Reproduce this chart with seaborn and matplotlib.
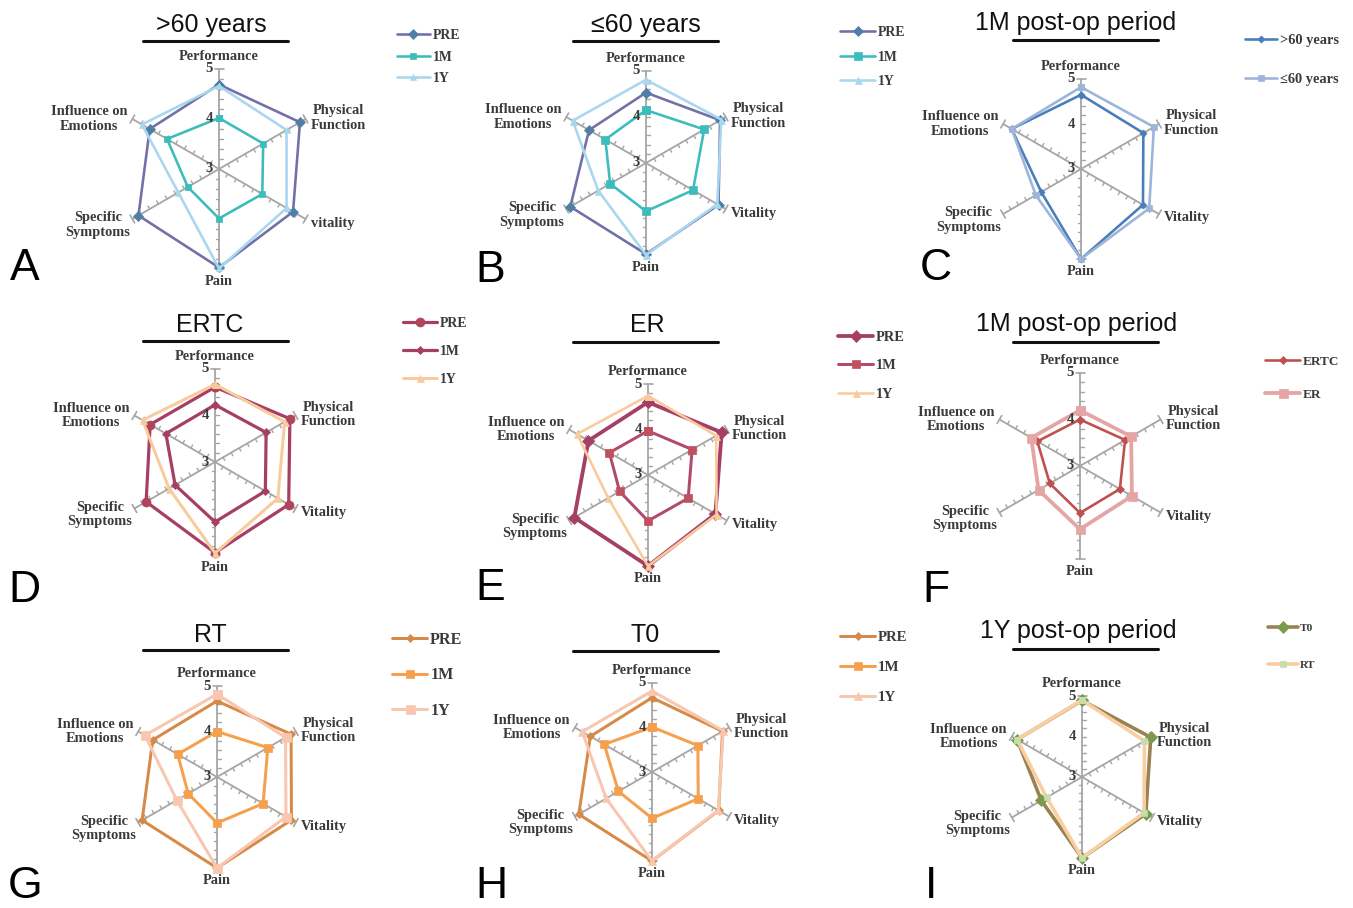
import numpy as np
import pandas as pd
import matplotlib
matplotlib.use("Agg")
import matplotlib.pyplot as plt
from matplotlib.lines import Line2D
import seaborn as sns

# ---------------------------------------------------------------- data
categories = ["Performance", "Physical\nFunction", "Vitality", "Pain",
              "Specific\nSymptoms", "Influence on\nEmotions"]
categories_a = ["Performance", "Physical\nFunction", "vitality", "Pain",
                "Specific\nSymptoms", "Influence on\nEmotions"]
radial_ticks = [3, 4, 5]

# A: >60 years
a_pre = [4.69, 4.87, 4.71, 4.97, 4.86, 4.60]
a_1m = [4.02, 4.02, 4.00, 3.99, 3.72, 4.20]
a_1y = [4.66, 4.56, 4.56, 4.99, 3.94, 4.78]
# B: <=60 years
b_pre = [4.53, 4.86, 4.82, 4.98, 4.90, 4.43]
b_1m = [4.15, 4.46, 4.18, 4.05, 3.90, 4.02]
b_1y = [4.81, 4.89, 4.79, 5.00, 4.20, 4.84]
# C: 1M post-op, by age
c_old = [4.65, 4.60, 4.59, 5.00, 4.02, 4.78]
c_young = [4.82, 4.87, 4.75, 5.00, 4.16, 4.78]
# D: ERTC
d_pre = [4.61, 4.86, 4.83, 4.95, 4.71, 4.61]
d_1m = [4.23, 4.27, 4.25, 4.29, 3.99, 4.22]
d_1y = [4.67, 4.73, 4.56, 4.96, 4.14, 4.80]
# E: ER
e_pre = [4.60, 4.87, 4.71, 5.00, 4.87, 4.51]
e_1m = [3.97, 4.12, 4.02, 4.01, 3.72, 3.98]
e_1y = [4.74, 4.73, 4.74, 5.00, 4.01, 4.80]
# F: 1M post-op, by procedure
f_ertc = [4.00, 4.12, 3.99, 4.01, 3.75, 4.06]
f_er = [4.20, 4.27, 4.29, 4.36, 4.03, 4.21]
# G: RT
g_pre = [4.67, 4.88, 4.89, 5.00, 4.90, 4.63]
g_1m = [4.00, 4.29, 4.17, 4.01, 3.73, 4.00]
g_1y = [4.82, 4.74, 4.75, 5.00, 4.02, 4.83]
# H: T0
h_pre = [4.67, 4.83, 4.73, 5.00, 4.90, 4.60]
h_1m = [4.01, 4.19, 4.20, 4.04, 3.87, 4.24]
h_1y = [4.82, 4.85, 4.72, 5.00, 4.19, 4.81]
# I: 1Y post-op, by procedure
i_t0 = [4.89, 4.96, 4.82, 5.00, 4.16, 4.85]
i_rt = [4.90, 4.78, 4.77, 5.00, 4.01, 4.85]

# ---------------------------------------------------------------- figure
W, H, DPI = 1353, 908, 100
PT = 72.0 / DPI

sns.set_theme(style="white")
SERIF = ["Liberation Serif", "DejaVu Serif"]
SANS = ["Liberation Sans", "DejaVu Sans"]
plt.rcParams["font.family"] = SERIF

fig = plt.figure(figsize=(W / DPI, H / DPI), dpi=DPI)
fig.patch.set_facecolor("white")

GRAY = "#a6a6a6"
TXT = "#3a3a3a"


def fx(x):
    return x / W


def fy(y):
    return 1 - y / H


def panel(cx, cy, R, title, tx, tby, uy, ux0, letter, lx, lby,
          series, legend_spec, cats=categories):
    ax = fig.add_axes([fx(cx - R), fy(cy + R), 2 * R / W, 2 * R / H],
                      projection="polar")
    ax.set_theta_zero_location("N")
    ax.set_theta_direction(-1)
    ax.set_ylim(3, 5)
    ax.axis("off")

    n = len(cats)
    angles = np.arange(n) * 2 * np.pi / n

    def off(v, t, d):
        rho = (v - 3) / 2 * R
        rr = np.hypot(rho, d)
        return t + np.arctan2(d, rho), 3 + 2 * rr / R

    # spokes, minor ticks and end caps
    for t in angles:
        ax.plot([t, t], [3, 5], color=GRAY, lw=1.3, clip_on=False, zorder=1)
        for v in np.arange(3.2, 4.81, 0.2):
            t1, v1 = off(v, t, 3.5)
            ax.plot([t, t1], [v, v1], color=GRAY, lw=1.0, clip_on=False,
                    zorder=1)
        ta, va_ = off(5, t, 4.5)
        tb, vb = off(5, t, -4.5)
        ax.plot([ta, t, tb], [va_, 5, vb], color=GRAY, lw=1.2,
                clip_on=False, zorder=1)

    # radial value labels along the top spoke
    for v in radial_ticks:
        ax.annotate(str(v), xy=(0, v), xytext=(-6 * PT, 0),
                    textcoords="offset points", ha="right", va="center",
                    fontsize=10.5, fontweight="bold", color=TXT,
                    annotation_clip=False, zorder=5)

    # category labels
    lab_kw = dict(textcoords="offset points", fontsize=10.4,
                  fontweight="bold", color=TXT, annotation_clip=False,
                  linespacing=1.15, multialignment="center")
    placements = [((0, 6), "center", "bottom"),
                  ((5, 1), "left", "center"),
                  ((5, -4), "left", "center"),
                  ((0, -6), "center", "top"),
                  ((-2, -6), "right", "center"),
                  ((-5, 0), "right", "center")]
    for t, c, (dxy, ha, va) in zip(angles, cats, placements):
        ax.annotate(c, xy=(t, 5), xytext=(dxy[0] * PT, dxy[1] * PT),
                    ha=ha, va=va, **lab_kw)

    # data polygons
    closed = np.append(angles, 2 * np.pi)
    for name, vals, line_c, mark_c, marker, ms, lw in series:
        df = pd.DataFrame({"theta": closed,
                           "score": list(vals) + [vals[0]]})
        sns.lineplot(data=df, x="theta", y="score", sort=False,
                     estimator=None, ax=ax, color=line_c, lw=lw * PT,
                     marker=marker, markersize=ms * PT,
                     markerfacecolor=mark_c, markeredgecolor=mark_c,
                     markeredgewidth=0.5, label=name, clip_on=False,
                     solid_joinstyle="round", zorder=3)

    # legend
    lx0, ly0, pitch, fs, hl = legend_spec
    fs = fs * 1.15
    fs_pt = fs * PT
    hrow = 1.15 * fs
    handles, labels = ax.get_legend_handles_labels()
    ax.legend(handles, labels, loc="upper left",
              bbox_to_anchor=(fx(lx0), fy(ly0 - hrow / 2)),
              bbox_transform=fig.transFigure, frameon=False,
              borderpad=0, borderaxespad=0, handlelength=hl / fs,
              handletextpad=0.2, labelspacing=(pitch - hrow) / fs,
              prop=dict(family=SERIF, weight="bold", size=fs_pt),
              labelcolor=TXT)

    # title, underline, panel letter
    fig.text(fx(tx), fy(tby), title, ha="center", va="baseline",
             fontsize=18, family=SANS, color="#111111")
    fig.add_artist(Line2D([fx(ux0), fx(ux0 + 145)], [fy(uy), fy(uy)],
                          transform=fig.transFigure, color="#111111",
                          lw=2.2))
    fig.text(fx(lx), fy(lby), letter, ha="left", va="baseline",
             fontsize=32, family=SANS, color="#000000")
    return ax


# colours
pre_line, pre_mark = "#7171a8", "#4f7fa6"
teal = "#3dbcbc"
sky = "#a9d7ef"
rasp = "#a63f66"
rasp_m = "#b0445c"
peach = "#f9cb9c"
brick, blush = "#c0504d", "#e6a5a5"
ochre, orange, pale = "#d68a48", "#f5a04e", "#f9c6b0"
olive, olive_m = "#9a8352", "#7a9a4e"
rt_line, rt_mark = "#f9cfa2", "#c9dcae"
steel, steel_l = "#4a7ebb", "#9cb5d8"

panel(219, 169, 100, ">60 years", 211, 32, 41, 143, "A", 10, 280,
      [("PRE", a_pre, pre_line, pre_mark, "D", 7, 2.6),
       ("1M", a_1m, teal, teal, "s", 6, 2.6),
       ("1Y", a_1y, sky, sky, "^", 6, 2.6)],
      (397, 37, 24.5, 12, 33), cats=categories_a)

panel(646, 163, 92, "\u226460 years", 646, 32, 41, 573, "B", 475, 282,
      [("PRE", b_pre, pre_line, pre_mark, "D", 7, 2.6),
       ("1M", b_1m, teal, teal, "s", 8, 2.6),
       ("1Y", b_1y, sky, sky, "^", 7, 2.6)],
      (840, 34, 27.5, 12, 35))

panel(1081, 169, 90, "1M post-op period", 1076, 30, 40, 1013, "C", 920,
      280,
      [(">60 years", c_old, steel, steel, "D", 5, 2.6),
       ("\u226460 years", c_young, steel_l, steel_l, "s", 6, 2.6)],
      (1245, 42, 43, 12.5, 32))

panel(215, 462, 93, "ERTC", 210, 332, 341, 143, "D", 8, 602,
      [("PRE", d_pre, rasp, rasp_m, "o", 9, 3.2),
       ("1M", d_1m, rasp, rasp, "D", 6, 3.2),
       ("1Y", d_1y, peach, peach, "^", 7, 3.0)],
      (403, 325, 31, 12, 34))

panel(648, 475, 91, "ER", 647, 332, 342, 573, "E", 475, 600,
      [("PRE", e_pre, rasp, rasp, "D", 8, 3.8),
       ("1M", e_1m, "#b24a6a", "#c05060", "s", 8, 3.0),
       ("1Y", e_1y, peach, peach, "^", 7, 2.6)],
      (838, 339, 32, 12.5, 35))

panel(1080, 466, 93, "1M post-op period", 1077, 331, 342, 1013, "F", 922,
      602,
      [("ERTC", f_ertc, brick, brick, "D", 6, 2.6),
       ("ER", f_er, blush, blush, "s", 9, 3.8)],
      (1265, 363, 36, 11.5, 35))

panel(217, 777, 91, "RT", 210, 642, 650, 143, "G", 8, 898,
      [("PRE", g_pre, ochre, ochre, "D", 6, 3.0),
       ("1M", g_1m, orange, orange, "s", 8, 3.0),
       ("1Y", g_1y, pale, pale, "s", 9, 3.0)],
      (392, 641, 38, 14, 35))

panel(652, 772, 89, "T0", 645, 642, 651, 573, "H", 475, 898,
      [("PRE", h_pre, ochre, ochre, "D", 6, 3.0),
       ("1M", h_1m, orange, orange, "s", 8, 3.0),
       ("1Y", h_1y, pale, pale, "^", 8, 3.0)],
      (840, 639, 34, 13, 35))

panel(1082, 777, 81, "1Y post-op period", 1078, 638, 649, 1013, "I", 925,
      898,
      [("T0", i_t0, olive, olive_m, "D", 8, 3.6),
       ("RT", i_rt, rt_line, rt_mark, "s", 6, 3.6)],
      (1268, 630, 40, 10, 30))

fig.savefig("out.png", dpi=DPI, facecolor="white")
